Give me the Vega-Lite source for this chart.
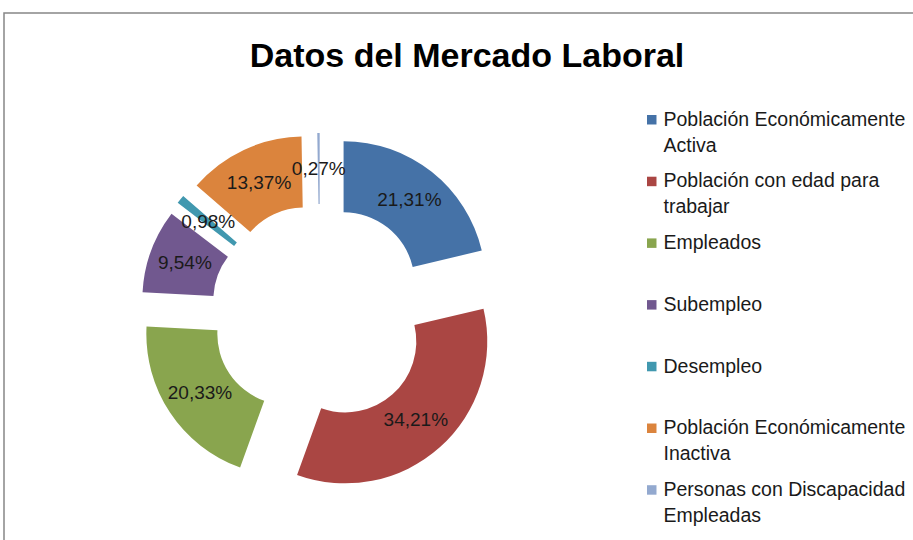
{
  "$schema": "https://vega.github.io/schema/vega-lite/v6.json",
  "width": 920,
  "height": 600,
  "autosize": {"type": "none"},
  "padding": {"left": 4, "top": 13, "right": 0, "bottom": 0},
  "background": "white",
  "view": {"stroke": "#868686", "strokeWidth": 1.5, "fill": "white"},
  "title": {
    "text": "Datos del Mercado Laboral",
    "font": "Liberation Sans",
    "fontSize": 34,
    "fontWeight": "bold",
    "color": "black",
    "anchor": "middle",
    "baseline": "alphabetic",
    "offset": -88,
    "dx": 3
  },
  "config": {
    "view": {"stroke": "#868686", "strokeWidth": 1.5},
    "font": "Liberation Sans",
    "locale": {"number": {"decimal": ",", "thousands": ".", "grouping": [3], "currency": ["", " €"]}},
    "style": {"guide-label": {"lineHeight": 26}}
  },
  "data": {
    "values": [
      {"categoria": "Población Económicamente Activa", "pct": 0.2131, "orden": 1},
      {"categoria": "Población con edad para trabajar", "pct": 0.3421, "orden": 2},
      {"categoria": "Empleados", "pct": 0.2033, "orden": 3},
      {"categoria": "Subempleo", "pct": 0.0954, "orden": 4},
      {"categoria": "Desempleo", "pct": 0.0098, "orden": 5},
      {"categoria": "Población Económicamente Inactiva", "pct": 0.1337, "orden": 6},
      {"categoria": "Personas con Discapacidad Empleadas", "pct": 0.0027, "orden": 7}
    ]
  },
  "encoding": {
    "theta": {"field": "pct", "type": "quantitative", "stack": true},
    "order": {"field": "orden", "type": "quantitative"}
  },
  "layer": [
    {
      "mark": {
        "type": "arc",
        "radius": 142,
        "radius2": 71,
        "xOffset": {"expr": "-144 + 38*sin(scale('theta', 0.5*(datum.pct_start + datum.pct_end)))"},
        "yOffset": {"expr": "-38*cos(scale('theta', 0.5*(datum.pct_start + datum.pct_end)))"}
      },
      "encoding": {
        "color": {
          "field": "categoria",
          "type": "nominal",
          "scale": {
            "domain": [
              "Población Económicamente Activa",
              "Población con edad para trabajar",
              "Empleados",
              "Subempleo",
              "Desempleo",
              "Población Económicamente Inactiva",
              "Personas con Discapacidad Empleadas"
            ],
            "range": ["#4572A7", "#AA4643", "#89A54E", "#71588F", "#4198AF", "#DB843D", "#93A9CF"]
          },
          "legend": {
            "orient": "none",
            "legendX": 638,
            "legendY": 97,
            "title": null,
            "symbolType": "square",
            "symbolSize": 90,
            "symbolStrokeWidth": 0,
            "labelFontSize": 19.5,
            "labelColor": "#1a1a1a",
            "labelFont": "Liberation Sans",
            "labelLimit": 400,
            "labelOffset": 2,
            "rowPadding": 14.7,
            "labelBaseline": "middle",
            "labelExpr": "datum.label == 'Población Económicamente Activa' ? ['Población Económicamente', 'Activa'] : datum.label == 'Población con edad para trabajar' ? ['Población con edad para', 'trabajar'] : datum.label == 'Población Económicamente Inactiva' ? ['Población Económicamente', 'Inactiva'] : datum.label == 'Personas con Discapacidad Empleadas' ? ['Personas con Discapacidad', 'Empleadas'] : [datum.label, '']"
          }
        }
      }
    },
    {
      "mark": {
        "type": "text",
        "radius": 106,
        "fontSize": 19,
        "font": "Liberation Sans",
        "color": "#1a1a1a",
        "xOffset": {"expr": "-144 + 38*sin(scale('theta', 0.5*(datum.pct_start + datum.pct_end)))"},
        "yOffset": {"expr": "-38*cos(scale('theta', 0.5*(datum.pct_start + datum.pct_end)))"}
      },
      "encoding": {
        "text": {"field": "pct", "type": "quantitative", "format": ".2%"}
      }
    }
  ]
}
